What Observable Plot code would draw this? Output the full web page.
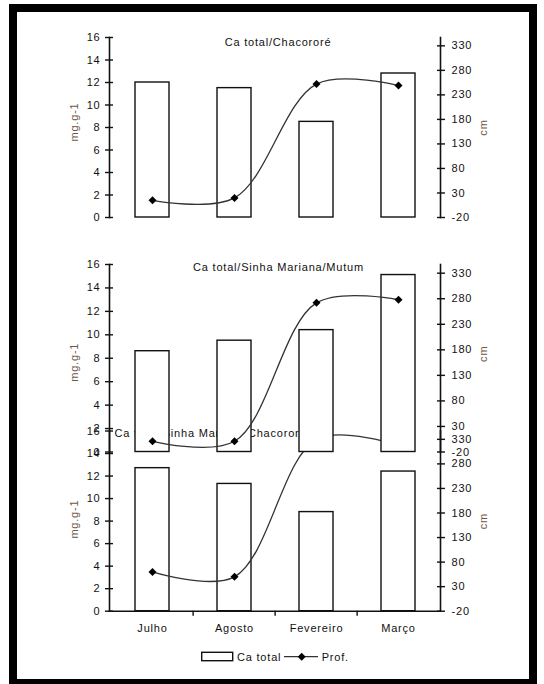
<!DOCTYPE html>
<html>
<head>
<meta charset="utf-8">
<script src="https://cdn.jsdelivr.net/npm/d3@7"></script>
<script src="https://cdn.jsdelivr.net/npm/@observablehq/plot@0.6"></script>
<style>
  html, body { margin: 0; padding: 0; background: #fff; }
  #page { position: relative; width: 544px; height: 684px; overflow: hidden; background: #fff;
          font-family: "Liberation Sans", Arial, sans-serif; }
  #frame { position: absolute; left: 9px; top: 4px; width: 512px; height: 667px; border: 8px solid #000; }
  #page svg text { letter-spacing: 0.8px; }
  .layer { position: absolute; left: 0; top: 0; }
</style>
</head>
<body>
<div id="page">
  <div id="frame"></div>
</div>
<script>
// ---- data ----
const months = ["Julho", "Agosto", "Fevereiro", "Março"];
const titles = ["Ca total/Chacororé", "Ca total/Sinha Mariana/Mutum", "Ca total/Sinha Mariana/Chacororé"];
// Ca total (mg.g-1), bars, left axis
const caChacorore   = [12.0, 11.5, 8.5, 12.8];
const caSinhaMutum  = [8.6, 9.5, 10.4, 15.1];
const caSinhaChac   = [12.7, 11.3, 8.8, 12.4];
// Prof. (cm), line, right axis
const profChacorore  = [15, 20, 252, 249];
const profSinhaMutum = [1, 1, 272, 278];
const profSinhaChac  = [60, 50, 330, 318];
// tick labels
const leftTicks  = [0, 2, 4, 6, 8, 10, 12, 14, 16];
const rightTicks = [-20, 30, 80, 130, 180, 230, 280, 330];
const legendLabels = ["Ca total", "Prof."];

// ---- layout ----
const W = 544, H = 684;
const mLeft = 109, mRight = W - 440;
const step = (W - mLeft - mRight) / months.length;
const font = '"Liberation Sans", Arial, sans-serif';

const panels = [
  // drawn bottom-most first
  {title: titles[2], ca: caSinhaChac, prof: profSinhaChac, top: 430.5, bottom: 610.7,
   tdx: -64.5, tdy: 2, ldy: -2, rdy: 0, xAxis: true},
  {title: titles[1], ca: caSinhaMutum, prof: profSinhaMutum, top: 264, bottom: 451.5,
   tdx: 3.5, tdy: 3, ldy: 4, rdy: -4.5, xAxis: false},
  {title: titles[0], ca: caChacorore, prof: profChacorore, top: 37, bottom: 217,
   tdx: 3, tdy: 5, ldy: -5.5, rdy: 0, xAxis: false}
];

const page = document.getElementById("page");
const frameDiv = document.getElementById("frame");

function baseOpts(p) {
  return {
    width: W, height: H,
    marginLeft: mLeft, marginRight: mRight,
    marginTop: p.top, marginBottom: H - p.bottom,
    style: {background: "transparent", fontFamily: font, fontSize: "11px", color: "#111", overflow: "visible"},
    className: "layer"
  };
}

for (const p of panels) {
  const rows = months.map((m, i) => ({month: m, ca: p.ca[i], prof: p.prof[i]}));

  const barMarks = [
    Plot.barY(rows, {x: "month", y: "ca", fill: "white", stroke: "#111", strokeWidth: 1.4}),
    Plot.frame({anchor: "left", stroke: "#111", strokeWidth: 1.6}),
    Plot.axisY({ticks: leftTicks, tickSize: 8, dx: 4, tickPadding: 5, strokeWidth: 1.4,
                tickFormat: d => String(d), fill: "#111", label: null}),
    Plot.text(["mg.g-1"], {frameAnchor: "left", rotate: -90, dx: -35, dy: p.ldy,
                           textAnchor: "middle", lineAnchor: "middle", fill: "#6b5646"}),
    Plot.text([p.title], {frameAnchor: "top", dx: p.tdx, dy: p.tdy, lineAnchor: "middle",
                          textAnchor: "middle", fill: "#111"})
  ];
  if (p.xAxis) {
    barMarks.push(
      Plot.frame({anchor: "bottom", stroke: "#111", strokeWidth: 1.6}),
      Plot.axisX({ticks: months.slice(1), tickSize: 5, dx: -step / 2, text: null, strokeWidth: 1.4, label: null}),
      Plot.axisX({tickSize: 0, tickPadding: 13.3, fill: "#111", label: null})
    );
  }

  const barPlot = Plot.plot({
    ...baseOpts(p),
    x: {type: "band", domain: months, paddingInner: 0.59, paddingOuter: 0.295, axis: null},
    y: {domain: [0, 16], axis: null},
    marks: barMarks
  });

  const linePlot = Plot.plot({
    ...baseOpts(p),
    x: {type: "point", domain: months, padding: 0.5, axis: null},
    y: {domain: [-20, 347], axis: null},
    marks: [
      Plot.line(rows, {x: "month", y: "prof", curve: "catmull-rom", stroke: "#333", strokeWidth: 1.3}),
      Plot.dot(rows, {x: "month", y: "prof", symbol: "diamond2", r: 3.6, fill: "#000", stroke: "none"}),
      Plot.frame({anchor: "right", stroke: "#111", strokeWidth: 1.6}),
      Plot.axisY({anchor: "right", ticks: rightTicks, tickSize: 8, dx: -4, tickPadding: 7, strokeWidth: 1.4,
                  tickFormat: d => String(d), fill: "#111", label: null}),
      Plot.text(["cm"], {frameAnchor: "right", rotate: -90, dx: 43, dy: p.rdy,
                         textAnchor: "middle", lineAnchor: "middle", fill: "#6b5646"})
    ]
  });

  page.insertBefore(barPlot, frameDiv);
  page.insertBefore(linePlot, frameDiv);
}

// ---- legend ----
const ns = "http://www.w3.org/2000/svg";
const leg = d3.create("svg")
  .attr("width", W).attr("height", 30)
  .style("position", "absolute").style("left", "0px").style("top", "642px")
  .style("font-family", font).style("font-size", "11px");
leg.append("rect").attr("x", 201.7).attr("y", 10.3).attr("width", 31).attr("height", 8.4)
  .attr("fill", "white").attr("stroke", "#111").attr("stroke-width", 1.4);
leg.append("text").attr("x", 237).attr("y", 14.6).attr("dominant-baseline", "central")
  .attr("fill", "#111").text(legendLabels[0]);
leg.append("line").attr("x1", 284).attr("x2", 318).attr("y1", 14.7).attr("y2", 14.7)
  .attr("stroke", "#333").attr("stroke-width", 1.3);
leg.append("path").attr("transform", "translate(301.7,14.7)")
  .attr("d", d3.symbol(d3.symbolDiamond2, 40)()).attr("fill", "#000");
leg.append("text").attr("x", 321.7).attr("y", 14.6).attr("dominant-baseline", "central")
  .attr("fill", "#111").text(legendLabels[1]);
page.insertBefore(leg.node(), frameDiv);
</script>
</body>
</html>
